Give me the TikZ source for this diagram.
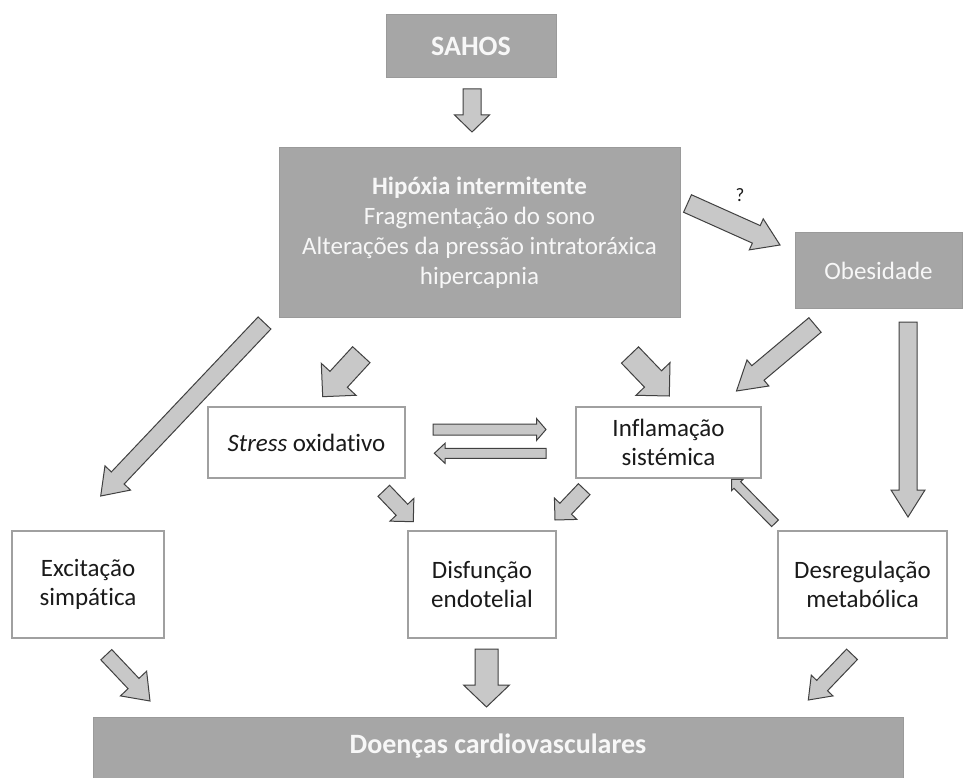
\documentclass[tikz,border=0pt]{standalone}
\usepackage{fontspec}
\setmainfont{Carlito}[Ligatures=NoCommon]
\usetikzlibrary{calc}
\definecolor{darkbox}{HTML}{A6A6A6}
\definecolor{darkedge}{HTML}{9A9A9A}
\definecolor{lightedge}{HTML}{A0A0A0}
\definecolor{arrfill}{HTML}{C8C8C8}
\definecolor{arredge}{HTML}{404040}
\definecolor{boxtext}{HTML}{F7F7F7}
\definecolor{plaintext}{HTML}{1A1A1A}
\tikzset{
  darknode/.style={draw=darkedge, line width=1pt, fill=darkbox, text=boxtext, align=center, inner sep=0pt},
  whitenode/.style={draw=lightedge, line width=1.2pt, fill=white, text=plaintext, align=center, inner sep=0pt},
  blockarr/.style={draw=arredge, fill=arrfill, line width=1pt, line join=miter},
  bodyfont/.style={font=\fontsize{25}{30}\selectfont},
  twoline/.style={font=\fontsize{25}{28.5}\selectfont},
  titlefont/.style={font=\fontsize{28}{32}\selectfont\bfseries},
}
\newcommand{\blockarrow}[5]{%
  \path ($(#2)!#5!(#1)$) coordinate (bah);
  \draw[blockarr] ($(#1)!#3!90:(#2)$) -- ($(bah)!#3!90:(#2)$) -- ($(bah)!#4!90:(#2)$) -- (#2)
     -- ($(bah)!#4!-90:(#2)$) -- ($(bah)!#3!-90:(#2)$) -- ($(#1)!#3!-90:(#2)$) -- cycle;
}
\begin{document}
\begin{tikzpicture}[x=1pt,y=-1pt]
\useasboundingbox (0,0) rectangle (964,778);
\fill[white] (0,0) rectangle (964,778);

% boxes
\node[darknode, minimum width=170pt, minimum height=63pt, titlefont] (sahos) at (471,46.5) {SAHOS};
\node[darknode, minimum width=401pt, minimum height=169pt, bodyfont] (hip) at (479.5,232.5)
  {\textbf{Hipóxia intermitente}\\Fragmentação do sono\\Alterações da pressão intratoráxica\\hipercapnia};
\node[darknode, minimum width=167pt, minimum height=75pt, bodyfont] (obes) at (878.5,270.5) {Obesidade};
\node[whitenode, minimum width=197pt, minimum height=71pt, bodyfont] (stress) at (306.5,442.5) {\textit{Stress} oxidativo};
\node[whitenode, minimum width=185pt, minimum height=71pt, twoline] (infl) at (668.5,442.5) {Inflamação\\sistémica};
\node[whitenode, minimum width=152pt, minimum height=107pt, twoline] (excit) at (88,584.5) {Excitação\\simpática};
\node[whitenode, minimum width=148pt, minimum height=107pt, twoline] (disf) at (482,584.5) {Disfunção\\endotelial};
\node[whitenode, minimum width=169pt, minimum height=107pt, twoline] (desreg) at (862.5,584.5) {Desregulação\\metabólica};
\node[darknode, minimum width=810pt, minimum height=70pt, anchor=north, titlefont] (doen) at (498,717) {\raisebox{0pt}[0pt][0pt]{\raisebox{-1pt}{Doenças cardiovasculares}}};

\node[text=plaintext, font=\fontsize{19}{22}\selectfont] (q) at (740,195) {?};

% arrow end points
\coordinate (a1t) at (472,89);      \coordinate (a1h) at (472,132);
\coordinate (a2t) at (687.5,203.5); \coordinate (a2h) at (780,245);
\coordinate (a3t) at (264.5,323);   \coordinate (a3h) at (100.7,496);
\coordinate (a4t) at (361.3,354.7); \coordinate (a4h) at (322.7,396.7);
\coordinate (a5t) at (630,355);     \coordinate (a5h) at (669.3,396);
\coordinate (a6t) at (815,325);     \coordinate (a6h) at (736.5,391);
\coordinate (a7t) at (908,322);     \coordinate (a7h) at (908,517);
\coordinate (a8t) at (433,429.5);   \coordinate (a8h) at (546,429.5);
\coordinate (a9t) at (546,453.3);   \coordinate (a9h) at (434.3,453.3);
\coordinate (a10t) at (383.8,490.8);\coordinate (a10h) at (413.3,521.7);
\coordinate (a11t) at (584.2,489.2);\coordinate (a11h) at (555,520);
\coordinate (a12t) at (775,523.3);  \coordinate (a12h) at (731.7,479.3);
\coordinate (a13t) at (106.3,654.7);\coordinate (a13h) at (150,701);
\coordinate (a14t) at (486.5,649);  \coordinate (a14h) at (486.5,707);
\coordinate (a15t) at (852,654.3);  \coordinate (a15h) at (808.3,700);

\blockarrow{a1t}{a1h}{9pt}{17.5pt}{17pt}
\blockarrow{a2t}{a2h}{9.6pt}{17pt}{26pt}
\blockarrow{a3t}{a3h}{8.8pt}{17.6pt}{24.8pt}
\blockarrow{a4t}{a4h}{11.8pt}{23.6pt}{23.6pt}
\blockarrow{a5t}{a5h}{11.8pt}{23.6pt}{23.6pt}
\blockarrow{a6t}{a6h}{9.5pt}{17pt}{28pt}
\blockarrow{a7t}{a7h}{9pt}{17pt}{27pt}
\blockarrow{a8t}{a8h}{5.5pt}{11pt}{9.5pt}
\blockarrow{a9t}{a9h}{5pt}{10pt}{10.7pt}
\blockarrow{a10t}{a10h}{8pt}{16.5pt}{16.5pt}
\blockarrow{a11t}{a11h}{8pt}{15.5pt}{15.5pt}
\blockarrow{a12t}{a12h}{4.7pt}{8pt}{8pt}
\blockarrow{a13t}{a13h}{7.5pt}{18pt}{24pt}
\blockarrow{a14t}{a14h}{11.5pt}{23pt}{22pt}
\blockarrow{a15t}{a15h}{7.5pt}{15pt}{20pt}
\end{tikzpicture}
\end{document}
